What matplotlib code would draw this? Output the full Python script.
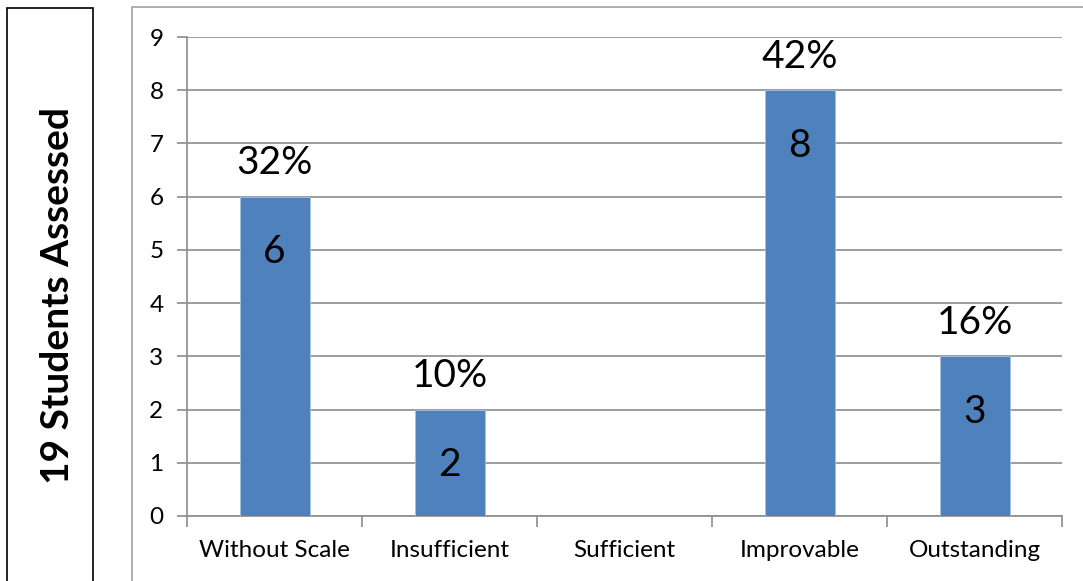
import numpy as np
import matplotlib.pyplot as plt
from matplotlib.patches import Rectangle

categories = ['Without Scale', 'Insufficient', 'Sufficient', 'Improvable', 'Outstanding']
counts = [6, 2, 0, 8, 3]
percents = ['32%', '10%', '', '42%', '16%']
side_label = '19 Students Assessed'

plt.rcParams['font.family'] = ['Lato', 'DejaVu Sans']

fig = plt.figure(figsize=(10.83, 5.81), dpi=100)
W, H = 1083, 581

# outer frames
fig.patches.append(Rectangle((7 / W, -0.1), 86 / W, 1.1 - 8 / H, transform=fig.transFigure,
                             fill=False, edgecolor='black', lw=1.2))
fig.patches.append(Rectangle((132 / W, -0.1), 1.0, 1.1 - 7 / H, transform=fig.transFigure,
                             fill=False, edgecolor='#a0a0a0', lw=1.2))
fig.text(58 / W, 1 - 295 / H, side_label, rotation=90, ha='center', va='center',
         fontsize=28, fontweight='bold')

ax = fig.add_axes([187 / W, 1 - 516 / H, (1062 - 187) / W, (516 - 37) / H])
x = np.arange(len(categories))
bars = ax.bar(x, counts, width=0.4, color='#4f81bd', edgecolor='#a7bfde', linewidth=0.6, zorder=3)

for rect, n, p in zip(bars, counts, percents):
    cx = rect.get_x() + rect.get_width() / 2
    if n > 0:
        ax.annotate(str(n), (cx, n), xytext=(0, -40), textcoords='offset points',
                    ha='center', va='center', fontsize=28, zorder=4)
    if p:
        ax.annotate(p, (cx, n), xytext=(0, 24), textcoords='offset points',
                    ha='center', va='center', fontsize=28, zorder=4)

ax.set_xlim(-0.5, len(categories) - 0.5)
ax.set_ylim(0, 9)
ax.set_yticks(range(10))
ax.set_xticks(x)
ax.set_xticklabels(categories, fontsize=17.5)
ax.set_xticks(np.arange(-0.5, len(categories)), minor=True)
ax.tick_params(axis='x', which='major', length=0, pad=17)
ax.tick_params(axis='x', which='minor', length=8, width=1.2, color='#8c8c8c')
ax.tick_params(axis='y', length=7, width=1.2, color='#8c8c8c', labelsize=17.5, pad=10)
ax.grid(axis='y', color='#8c8c8c', lw=1.2, zorder=0)
for s in ['top', 'right']:
    ax.spines[s].set_visible(False)
for s in ['left', 'bottom']:
    ax.spines[s].set_color('#8c8c8c')
    ax.spines[s].set_linewidth(1.2)

fig.savefig('out.png', dpi=100)
